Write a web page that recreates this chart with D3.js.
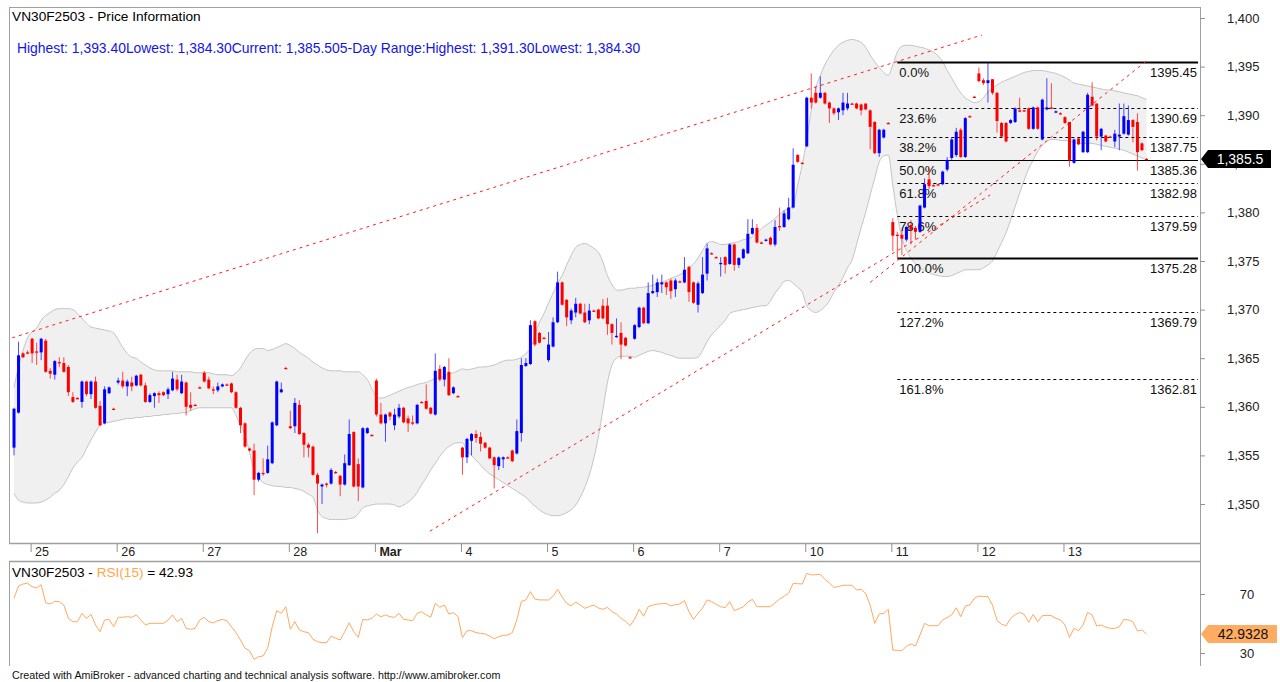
<!DOCTYPE html>
<html><head><meta charset="utf-8">
<script src="https://cdn.jsdelivr.net/npm/d3@7"></script>
<style>
body{margin:0;background:#fff;}
svg{display:block;font-family:"Liberation Sans",Arial,sans-serif;}
</style></head><body>
<svg id="chart" width="1280" height="682"></svg>
<script>
// ---------------- DATA ----------------
const dayStarts = [4,23,42,61,80,99,118,137,156,175,194,213,232];
const dayLabels = ["25","26","27","28","Mar","4","5","6","7","10","11","12","13"];
const priceTicks = [1350,1355,1360,1365,1370,1375,1380,1385,1390,1395,1400];
const rsiTicks = [30,70];

const opens = [
1355.8,1359.4,1365.5,1365.6,1367.0,1365.7,1365.6,1366.8,1363.7,1363.3,
1364.6,1364.5,1364.1,1361.0,1360.9,1360.5,1362.6,1361.3,1362.6,1360.1,
1358.3,1361.4,1359.8,1362.5,1362.7,1362.1,1362.5,1362.2,1363.3,1362.2,
1360.5,1361.1,1361.4,1361.5,1361.3,1361.7,1362.8,1361.4,1362.5,1360.2,
1360.2,1362.0,1363.5,1362.8,1361.8,1361.7,1362.1,1362.3,1362.4,1361.5,
1359.9,1358.3,1355.7,1355.5,1352.5,1353.2,1353.2,1354.2,1358.1,1361.5,
1364.0,1358.0,1358.0,1360.2,1357.3,1356.1,1355.9,1353.0,1351.8,1352.1,
1352.1,1353.3,1352.9,1352.0,1354.0,1357.4,1354.1,1351.7,1357.3,1357.1,
1362.7,1359.2,1358.3,1359.4,1358.1,1359.0,1359.9,1358.8,1358.4,1358.3,
1360.5,1360.6,1359.9,1359.2,1363.9,1362.8,1363.6,1361.4,1361.1,1355.8,
1354.8,1356.5,1357.2,1356.9,1356.3,1355.8,1354.8,1353.9,1354.6,1354.8,
1355.5,1355.2,1357.3,1364.2,1364.4,1368.8,1367.6,1367.1,1364.8,1366.2,
1368.7,1372.8,1371.0,1368.9,1369.7,1370.6,1369.7,1368.9,1369.9,1370.0,
1370.4,1370.4,1368.5,1367.2,1367.6,1367.1,1365.1,1367.0,1368.2,1370.2,
1368.6,1371.7,1371.8,1372.6,1372.8,1373.0,1372.1,1372.9,1372.8,1374.4,
1372.8,1370.5,1371.7,1373.7,1375.8,1375.4,1374.7,1375.4,1374.7,1376.7,
1374.6,1375.3,1375.8,1377.8,1378.4,1376.9,1377.1,1377.4,1376.7,1378.6,
1378.5,1379.3,1380.5,1385.9,1385.1,1386.8,1391.8,1392.3,1391.8,1392.3,
1391.3,1390.7,1390.3,1390.5,1390.7,1391.2,1391.2,1391.1,1391.2,1390.5,
1389.3,1386.1,1387.7,1389.2,1379.0,1377.7,1377.7,1377.2,1378.7,1378.4,
1378.0,1380.5,1383.4,1382.8,1382.9,1382.9,1384.4,1385.6,1385.9,1388.5,
1385.7,1389.9,1391.9,1394.3,1393.6,1393.3,1393.7,1392.3,1389.2,1389.2,
1389.2,1389.3,1390.5,1390.5,1390.7,1388.6,1390.8,1387.5,1390.6,1390.8,
1390.3,1390.2,1389.8,1389.3,1385.1,1387.6,1386.2,1386.2,1391.9,1391.2,
1387.8,1387.9,1387.8,1387.3,1387.8,1388.1,1388.0,1389.5,1389.3,1387.1,1385.5];

const highs = [
1359.9,1366.7,1365.6,1365.8,1367.1,1366.6,1367.1,1367.0,1364.0,1364.8,
1365.1,1365.1,1364.3,1361.5,1361.0,1362.7,1362.7,1362.7,1363.1,1360.6,
1362.1,1362.1,1359.9,1363.0,1363.6,1362.8,1363.1,1363.3,1363.4,1362.5,
1361.4,1361.5,1361.6,1361.6,1362.0,1363.6,1363.3,1363.3,1362.6,1361.5,
1360.3,1362.1,1363.7,1363.1,1362.1,1362.5,1362.4,1362.4,1362.5,1361.6,
1360.0,1358.4,1355.8,1356.2,1353.3,1354.7,1356.0,1358.5,1362.7,1362.5,
1364.1,1359.6,1360.9,1360.7,1357.4,1356.3,1356.0,1353.2,1352.1,1352.2,
1353.7,1353.4,1353.0,1355.1,1358.7,1357.5,1354.7,1357.9,1357.9,1357.2,
1362.9,1360.4,1359.3,1359.5,1359.8,1360.3,1360.0,1359.1,1359.1,1360.3,
1360.6,1362.3,1360.0,1365.5,1364.3,1364.2,1365.0,1362.1,1361.2,1355.9,
1356.8,1357.3,1357.6,1357.4,1356.4,1355.9,1354.9,1354.9,1354.9,1354.9,
1355.6,1358.7,1365.0,1365.0,1368.9,1368.9,1367.7,1367.2,1367.7,1369.2,
1373.9,1372.9,1371.1,1370.1,1371.2,1370.7,1370.6,1370.6,1370.0,1370.1,
1371.1,1371.2,1368.6,1369.1,1368.7,1367.2,1365.2,1368.5,1370.3,1370.3,
1372.8,1373.6,1373.2,1373.6,1372.9,1373.2,1373.2,1373.0,1375.4,1374.5,
1372.9,1372.9,1375.4,1376.8,1375.9,1375.5,1375.4,1375.5,1376.8,1376.8,
1375.4,1376.3,1379.3,1379.3,1378.8,1377.0,1377.3,1377.5,1379.2,1380.5,
1380.2,1381.5,1386.6,1386.0,1385.2,1391.9,1394.3,1392.9,1394.0,1392.4,
1391.4,1390.8,1390.8,1392.3,1392.3,1391.3,1391.3,1391.2,1391.2,1390.6,
1389.4,1388.6,1388.6,1389.3,1379.4,1378.0,1378.2,1378.6,1379.2,1378.6,
1380.8,1383.5,1384.6,1382.9,1383.0,1384.3,1385.7,1387.7,1388.7,1388.7,
1389.8,1390.0,1392.0,1394.9,1393.8,1395.45,1393.7,1392.4,1389.3,1389.3,
1389.6,1390.8,1391.8,1390.6,1390.8,1390.9,1390.9,1391.7,1393.8,1393.3,
1390.5,1390.3,1389.9,1389.3,1387.6,1387.7,1388.4,1392.3,1393.4,1391.2,
1388.7,1388.0,1387.9,1388.5,1391.2,1391.2,1391.0,1389.6,1390.2,1387.2,1385.6];

const lows = [
1355.0,1359.3,1365.0,1365.4,1364.5,1364.3,1364.8,1363.5,1362.9,1362.8,
1364.1,1363.5,1361.1,1360.4,1360.8,1359.9,1361.1,1360.8,1359.8,1358.0,
1358.2,1361.3,1359.7,1362.3,1361.9,1361.1,1361.6,1362.1,1362.1,1360.4,
1360.4,1359.9,1360.4,1361.1,1360.8,1361.6,1361.6,1361.3,1359.1,1359.6,
1360.1,1361.9,1362.5,1361.8,1361.3,1361.5,1362.0,1362.2,1361.4,1359.8,
1357.3,1355.8,1355.4,1350.9,1352.3,1352.9,1353.1,1354.1,1358.0,1361.4,
1363.9,1357.7,1357.3,1357.1,1354.8,1354.8,1352.9,1347.0,1350.0,1351.7,
1352.0,1353.1,1350.8,1351.9,1353.9,1351.7,1350.3,1351.6,1357.2,1357.0,
1359.0,1358.2,1356.4,1358.6,1357.6,1358.8,1358.3,1357.4,1358.1,1358.2,
1360.4,1359.7,1359.2,1359.1,1362.6,1362.1,1361.1,1361.3,1361.0,1353.0,
1354.2,1355.0,1356.3,1355.4,1355.7,1354.6,1351.6,1353.5,1353.7,1354.7,
1354.3,1355.1,1356.4,1364.1,1364.3,1366.2,1366.5,1367.0,1364.6,1366.1,
1368.6,1370.4,1368.3,1368.5,1369.2,1369.5,1368.6,1368.5,1369.8,1369.0,
1369.0,1367.4,1366.4,1367.1,1364.9,1366.2,1365.0,1366.9,1368.1,1368.5,
1368.5,1371.6,1371.3,1371.7,1371.5,1371.1,1371.3,1372.8,1372.7,1370.8,
1370.6,1369.7,1371.6,1373.0,1375.7,1375.3,1373.4,1373.7,1374.6,1374.0,
1374.3,1375.2,1375.7,1377.7,1376.8,1376.8,1377.0,1376.6,1376.5,1378.1,
1378.4,1379.2,1380.4,1385.1,1385.0,1386.7,1390.7,1391.2,1391.7,1391.1,
1389.2,1390.0,1389.5,1390.0,1390.5,1391.1,1390.6,1390.0,1390.5,1386.5,
1386.0,1385.7,1387.6,1389.1,1376.0,1375.28,1375.6,1377.0,1376.7,1377.2,
1377.9,1380.4,1382.4,1382.7,1382.7,1382.8,1384.2,1385.4,1385.7,1385.6,
1385.6,1389.8,1391.8,1393.4,1393.1,1391.3,1392.1,1388.2,1387.7,1387.2,
1389.1,1389.2,1390.3,1390.4,1388.5,1388.5,1388.5,1387.4,1390.5,1390.6,
1390.2,1390.1,1389.1,1384.7,1385.0,1386.9,1386.1,1386.1,1390.9,1387.4,
1386.4,1387.2,1387.7,1386.7,1386.4,1388.0,1387.9,1387.2,1384.3,1386.3,1385.4];

const closes = [
1359.8,1365.3,1365.1,1365.5,1365.5,1365.6,1367.0,1363.6,1363.4,1364.7,
1364.5,1363.6,1361.5,1360.5,1360.9,1362.6,1361.3,1362.6,1359.9,1358.1,
1361.8,1362.0,1359.8,1362.7,1362.1,1362.6,1362.1,1363.2,1362.2,1360.5,
1361.2,1361.4,1361.2,1361.2,1361.8,1362.9,1361.8,1362.6,1360.0,1359.9,
1360.2,1362.0,1362.6,1361.9,1361.8,1362.1,1362.3,1362.3,1361.5,1359.9,
1358.1,1355.9,1355.5,1352.5,1353.2,1353.1,1354.6,1358.4,1362.6,1361.8,
1364.0,1357.8,1360.4,1357.2,1356.1,1355.8,1353.0,1352.1,1352.0,1352.0,
1353.5,1353.2,1352.0,1354.2,1357.2,1351.8,1351.8,1357.8,1357.8,1357.1,
1359.2,1358.3,1359.2,1359.0,1359.2,1359.9,1358.4,1358.3,1358.3,1360.2,
1360.5,1359.8,1359.3,1363.7,1362.8,1364.1,1361.2,1362.0,1361.1,1354.8,
1356.7,1357.2,1356.8,1356.2,1355.8,1354.7,1354.0,1354.8,1354.8,1354.8,
1354.4,1357.5,1364.3,1364.5,1368.4,1366.4,1366.6,1367.1,1366.4,1368.7,
1372.8,1370.5,1369.2,1369.9,1370.6,1369.6,1368.7,1369.9,1369.9,1369.1,
1369.1,1368.5,1367.6,1367.3,1366.4,1366.3,1365.1,1368.4,1370.2,1368.6,
1371.7,1371.9,1372.8,1372.8,1372.3,1371.9,1373.0,1372.9,1374.1,1371.8,
1370.7,1372.7,1373.6,1376.3,1375.8,1375.4,1374.8,1374.6,1376.7,1374.6,
1375.3,1376.2,1377.8,1378.4,1376.9,1376.9,1377.2,1376.7,1378.5,1378.6,
1379.9,1380.5,1384.9,1385.2,1385.1,1391.8,1391.3,1391.3,1392.3,1391.2,
1390.7,1390.2,1390.7,1391.3,1391.2,1391.2,1390.7,1390.5,1390.6,1388.8,
1386.1,1388.5,1388.5,1389.2,1377.6,1377.6,1377.3,1378.5,1378.2,1378.0,
1380.7,1382.9,1382.7,1382.8,1382.9,1384.2,1385.4,1387.5,1388.3,1385.7,
1389.7,1389.9,1391.9,1393.5,1393.3,1393.6,1392.3,1389.4,1387.8,1387.3,
1389.5,1390.7,1390.5,1390.5,1388.6,1390.8,1388.6,1391.6,1390.8,1390.7,
1390.4,1390.2,1389.2,1385.4,1387.5,1387.0,1388.3,1392.1,1391.0,1387.8,
1388.6,1387.3,1387.8,1388.1,1388.0,1389.9,1389.5,1388.8,1386.2,1386.4,1385.5];

const bbUpper = [
1362.0,1364.1,1365.8,1367.1,1367.7,1368.1,1368.9,1369.4,1369.7,1370.0,
1370.1,1370.1,1370.1,1370.0,1369.6,1369.1,1368.6,1368.2,1368.1,1368.0,
1367.9,1367.8,1367.6,1366.9,1366.1,1365.5,1365.1,1365.0,1364.6,1364.3,
1364.0,1363.8,1363.7,1363.7,1363.7,1363.7,1363.6,1363.6,1363.6,1363.6,
1363.5,1363.5,1363.5,1363.5,1363.4,1363.3,1363.3,1363.3,1363.2,1363.5,
1364.0,1364.8,1365.5,1365.9,1366.0,1366.0,1365.8,1365.9,1366.1,1366.3,
1366.5,1366.3,1366.0,1365.6,1365.3,1365.0,1364.6,1364.3,1364.0,1363.8,
1363.7,1363.7,1363.7,1363.6,1363.6,1363.6,1363.6,1363.3,1362.8,1361.9,
1361.0,1360.9,1361.0,1361.2,1361.4,1361.6,1361.8,1362.0,1362.1,1362.3,
1362.4,1362.5,1362.7,1362.9,1363.0,1363.2,1363.4,1363.5,1363.7,1363.9,
1363.8,1363.9,1364.0,1364.1,1364.1,1364.2,1364.3,1364.5,1364.7,1364.8,
1364.8,1364.9,1365.1,1365.5,1366.0,1367.4,1368.7,1369.6,1370.7,1371.7,
1372.7,1373.5,1374.6,1375.6,1376.4,1376.7,1376.8,1376.6,1376.3,1375.9,
1374.9,1373.5,1372.6,1372.0,1372.0,1372.1,1372.2,1372.2,1372.3,1372.3,
1372.4,1372.5,1372.7,1372.8,1373.0,1373.2,1373.4,1373.6,1373.9,1374.3,
1374.7,1375.3,1376.1,1376.8,1377.0,1376.9,1376.7,1376.7,1376.8,1376.9,
1377.0,1377.2,1377.3,1377.5,1377.9,1378.3,1378.7,1379.0,1379.4,1379.8,
1380.2,1380.4,1380.7,1382.8,1384.9,1387.5,1390.5,1392.8,1394.1,1395.2,
1396.0,1396.7,1397.2,1397.5,1397.7,1397.8,1397.7,1397.5,1397.0,1396.2,
1395.5,1394.9,1394.4,1394.1,1395.2,1396.5,1397.1,1397.2,1397.2,1397.1,
1397.0,1396.9,1396.7,1396.5,1396.1,1395.5,1394.6,1393.8,1393.0,1392.3,
1391.8,1391.5,1391.3,1391.4,1391.8,1392.4,1392.8,1393.1,1393.4,1393.6,
1393.8,1394.0,1394.2,1394.4,1394.5,1394.6,1394.6,1394.6,1394.5,1394.4,
1394.3,1394.1,1393.9,1393.6,1393.3,1393.2,1393.1,1393.0,1392.9,1392.8,
1392.7,1392.6,1392.6,1392.5,1392.4,1392.3,1392.2,1392.1,1392.0,1391.8,1391.6];

const bbLower = [
1351.1,1350.4,1350.2,1350.1,1350.1,1350.1,1350.2,1350.4,1350.7,1351.1,
1351.4,1352.0,1352.8,1353.7,1354.3,1354.8,1355.7,1356.6,1357.4,1358.1,
1358.3,1358.4,1358.5,1358.6,1358.7,1358.8,1358.8,1358.9,1358.9,1359.0,
1359.0,1359.1,1359.1,1359.2,1359.2,1359.3,1359.3,1359.4,1359.4,1359.6,
1359.8,1359.9,1359.9,1359.9,1359.9,1359.9,1359.9,1359.9,1359.9,1359.1,
1358.1,1357.1,1355.3,1353.5,1352.7,1352.2,1352.0,1351.9,1351.8,1351.8,
1351.7,1351.7,1351.6,1351.5,1351.3,1351.0,1350.7,1349.4,1348.7,1348.5,
1348.4,1348.4,1348.4,1348.4,1348.5,1348.6,1349.0,1349.6,1349.8,1349.9,
1350.0,1350.0,1350.0,1350.0,1349.9,1349.7,1349.9,1350.2,1350.6,1351.2,
1352.0,1352.7,1353.5,1354.2,1354.9,1355.5,1355.9,1356.2,1356.3,1356.3,
1355.5,1355.0,1354.5,1354.0,1353.5,1353.1,1352.8,1352.5,1352.2,1351.9,
1351.6,1351.3,1351.0,1350.7,1350.2,1349.8,1349.4,1349.1,1348.9,1348.8,
1348.8,1348.9,1349.1,1349.4,1349.9,1350.7,1351.7,1353.0,1354.7,1356.9,
1359.7,1362.5,1364.3,1365.0,1365.2,1365.2,1365.2,1365.1,1365.3,1365.5,
1365.7,1365.8,1365.7,1365.6,1365.4,1365.3,1365.1,1365.0,1365.0,1365.0,
1365.0,1365.1,1365.8,1366.7,1367.4,1367.9,1368.4,1368.9,1369.6,1369.8,
1369.9,1370.0,1370.1,1370.2,1370.3,1370.4,1370.4,1370.9,1371.7,1372.3,
1372.9,1373.0,1372.7,1372.3,1371.8,1370.4,1369.9,1369.7,1369.9,1370.3,
1370.9,1371.8,1372.5,1373.3,1374.3,1375.1,1376.7,1378.4,1380.0,1381.8,
1383.5,1385.2,1385.8,1385.9,1382.8,1379.7,1377.4,1376.1,1375.3,1374.7,
1374.3,1374.0,1373.8,1373.6,1373.5,1373.4,1373.4,1373.5,1373.7,1373.9,
1374.1,1374.1,1374.1,1374.1,1374.3,1374.6,1375.0,1375.9,1376.9,1377.9,
1379.2,1380.6,1382.0,1383.3,1384.5,1385.4,1386.3,1386.9,1387.3,1387.5,
1387.5,1387.4,1387.4,1387.3,1387.2,1387.1,1387.1,1387.1,1387.1,1387.0,
1386.9,1386.8,1386.7,1386.6,1386.5,1386.4,1386.2,1386.0,1385.8,1385.6,1385.4];

const rsi15 = [
67.1,75.4,76.8,77.3,75.0,74.1,76.3,64.1,63.2,65.0,
64.8,62.5,53.5,51.2,51.2,56.9,53.5,56.2,49.0,44.4,
52.4,52.8,47.8,54.2,54.2,54.6,54.2,55.8,52.4,49.0,
50.1,50.1,50.1,50.1,52.4,55.8,51.2,53.5,46.7,46.1,
46.7,52.4,54.2,51.2,50.5,51.9,52.8,51.9,47.8,43.8,
38.8,33.2,31.6,25.7,27.5,28.0,33.2,47.8,58.7,56.9,
61.4,46.1,51.2,45.6,44.4,43.8,39.3,37.7,37.0,37.0,
41.5,40.0,38.8,44.4,50.5,44.4,40.6,52.8,52.4,53.5,
56.4,54.6,55.8,54.6,54.2,56.9,52.8,52.4,51.9,56.9,
58.0,55.8,54.2,63.7,61.0,62.5,56.4,57.3,54.6,40.4,
45.1,45.1,43.8,43.3,42.9,41.5,39.7,41.0,42.0,42.2,
43.8,52.4,65.0,66.0,71.6,66.5,66.0,66.0,65.9,68.5,
73.2,68.0,63.7,62.0,64.5,62.5,60.3,61.5,62.5,60.5,
59.6,61.0,58.0,56.5,53.5,51.5,48.5,53.0,59.6,55.0,
61.4,62.5,63.2,63.4,63.6,61.9,62.8,63.2,65.5,58.0,
52.8,57.0,60.5,66.0,64.8,63.0,61.4,60.7,64.8,58.7,
60.0,61.4,64.5,66.4,61.4,61.4,61.4,61.4,64.1,66.5,
68.5,70.5,77.2,77.0,76.8,84.0,82.9,83.1,83.3,80.0,
77.5,74.5,75.0,75.9,75.9,75.9,72.7,73.2,70.5,62.5,
50.1,56.4,56.9,59.6,32.0,31.8,31.6,34.5,36.1,34.7,
42.2,50.1,48.5,48.5,48.5,52.4,54.0,55.8,60.7,54.6,
61.9,62.5,67.1,68.6,68.3,68.2,62.5,52.0,49.5,48.5,
53.5,56.0,57.5,56.2,50.8,56.2,51.2,55.3,55.5,55.3,
53.5,52.5,49.0,40.6,46.7,45.1,49.0,57.5,55.8,48.3,
49.0,47.5,46.7,46.7,47.8,52.8,52.4,51.2,44.9,45.6,42.93];

// trend lines: [bar index, price] endpoints
const trendStart = [[-0.4,1367.1],[91.8,1347.2],[189,1372.8]];
const trendEnd   = [[213.7,1398.25],[215.5,1381.8],[250.3,1395.7]];

// Fibonacci retracement
const fibStartBar = 195;
const fibPct = ["0.0%","23.6%","38.2%","50.0%","61.8%","78.6%","100.0%","127.2%","161.8%"];
const fibVal = [1395.45,1390.69,1387.75,1385.36,1382.98,1379.59,1375.28,1369.79,1362.81];

const headerTitle = "VN30F2503 - Price Information";
const headerInfo = "Highest: 1,393.40Lowest: 1,384.30Current: 1,385.505-Day Range:Highest: 1,391.30Lowest: 1,384.30";
const lastPrice = 1385.5, lastRsi = 42.9328;

// ---------------- LAYOUT ----------------
const L = 9, R = 1200, T = 7, B = 543, RT = 561, RB = 666;
const x = d3.scaleLinear().domain([0, 250]).range([14, 14 + 4.53 * 250]);
const y = d3.scaleLinear().domain([1350, 1400]).range([504, 18]);
const yr = d3.scaleLinear().domain([30, 70]).range([653, 594]);

const svg = d3.select("#chart");
svg.append("rect").attr("width",1280).attr("height",682).attr("fill","#fff");

const defs = svg.append("defs");
defs.append("clipPath").attr("id","cp").append("rect").attr("x",L).attr("y",T).attr("width",R-L).attr("height",B-T);
defs.append("clipPath").attr("id","cpr").append("rect").attr("x",L).attr("y",RT).attr("width",R-L).attr("height",RB-RT);

const plot = svg.append("g").attr("clip-path","url(#cp)");

// Bollinger band
const idx = d3.range(closes.length);
const band = d3.area().x(i => x(i)).y0(i => y(bbLower[i])).y1(i => y(bbUpper[i])).curve(d3.curveMonotoneX);
plot.append("path").datum(idx).attr("d", band).attr("fill","#f0f0f0");
const ln = arr => d3.line().x(i => x(i)).y(i => y(arr[i])).curve(d3.curveMonotoneX);
plot.append("path").datum(idx).attr("d", ln(bbUpper)).attr("fill","none").attr("stroke","#c4c4c4").attr("stroke-width",1);
plot.append("path").datum(idx).attr("d", ln(bbLower)).attr("fill","none").attr("stroke","#c4c4c4").attr("stroke-width",1);

// Fibonacci
const fibX1 = x(fibStartBar), fibX2 = R - 2;
fibVal.forEach((v, k) => {
  const yy = Math.round(y(v)) + 0.5;
  const solid = (k === 0 || k === 3 || k === 6);
  plot.append("line").attr("x1",fibX1).attr("x2",fibX2).attr("y1",yy).attr("y2",yy)
    .attr("stroke","#000").attr("stroke-width", (k===0||k===6) ? 2 : 1)
    .attr("stroke-dasharray", solid ? null : "3,3");
  plot.append("text").attr("x", fibX1 + 2).attr("y", yy + 14).attr("font-size",13).attr("fill","#111").text(fibPct[k]);
  plot.append("text").attr("x", fibX2 - 1).attr("y", yy + 14).attr("font-size",13).attr("fill","#111")
    .attr("text-anchor","end").text(v.toFixed(2));
});

// trend lines
trendStart.forEach((s, k) => {
  const e = trendEnd[k];
  plot.append("line").attr("x1",x(s[0])).attr("y1",y(s[1])).attr("x2",x(e[0])).attr("y2",y(e[1]))
    .attr("stroke","#ff2020").attr("stroke-width",1).attr("stroke-dasharray","3,4");
});

// candles
const cg = plot.append("g");
idx.forEach(i => {
  const o = opens[i], c = closes[i];
  const col = c > o ? "#0000ff" : "#ff0000";
  const hi = Math.max(highs[i], o, c), lo = Math.min(lows[i], o, c);
  const cx = x(i);
  cg.append("line").attr("x1",cx).attr("x2",cx).attr("y1",y(hi)).attr("y2",y(lo))
    .attr("stroke",col).attr("stroke-width",1).attr("stroke-opacity",0.7);
  const yt = y(Math.max(o,c)), yb = y(Math.min(o,c));
  cg.append("rect").attr("x",cx-1.5).attr("width",3).attr("y",yt).attr("height",Math.max(1.3, yb-yt)).attr("fill",col);
});

// ---------------- FRAMES ----------------
const frame = svg.append("g").attr("stroke","#a0a0a0").attr("fill","none");
frame.append("line").attr("x1",L).attr("x2",R).attr("y1",T+0.5).attr("y2",T+0.5);
frame.append("line").attr("x1",L+0.5).attr("x2",L+0.5).attr("y1",T).attr("y2",B);
frame.append("line").attr("x1",L+0.5).attr("x2",L+0.5).attr("y1",RT).attr("y2",RB);
frame.append("line").attr("x1",L).attr("x2",R).attr("y1",B+0.5).attr("y2",B+0.5).attr("stroke-width",1.5);
frame.append("line").attr("x1",L).attr("x2",R).attr("y1",RT+0.5).attr("y2",RT+0.5).attr("stroke-width",1.5);
frame.append("line").attr("x1",R+0.5).attr("x2",R+0.5).attr("y1",T).attr("y2",RB);

// price axis
const pa = svg.append("g").attr("transform",`translate(${R},0)`)
  .call(d3.axisRight(y).tickValues(priceTicks).tickFormat(d3.format(",")).tickSize(5).tickSizeOuter(0).tickPadding(22));
pa.select(".domain").remove();
pa.selectAll("line").attr("stroke","#909090");
pa.selectAll("text").attr("font-size",13).attr("fill","#222").attr("font-family","Liberation Sans, Arial, sans-serif");

// x axis
const xa = svg.append("g").attr("transform",`translate(0,${B+1})`)
  .call(d3.axisBottom(x).tickValues(dayStarts).tickFormat((d,k) => dayLabels[k]).tickSize(8).tickSizeOuter(0));
xa.select(".domain").remove();
xa.selectAll("line").attr("stroke","#909090").attr("transform","translate(-1.5,0)");
xa.selectAll("text").attr("text-anchor","start").attr("x",2.5).attr("y",3).attr("font-size",12.5).attr("fill","#222")
  .attr("font-family","Liberation Sans, Arial, sans-serif")
  .attr("font-weight",(d,k) => dayLabels[k] === "Mar" ? "bold" : null);

// current price tag (drawn over the hidden 1,385 label as in the original)
const ty = y(lastPrice);
svg.append("path").attr("d",`M${R+1},${ty} L${R+8},${ty-9} L${R+71},${ty-9} L${R+71},${ty+9} L${R+8},${ty+9} Z`).attr("fill","#000");
svg.append("text").attr("x",R+40).attr("y",ty+5).attr("text-anchor","middle").attr("font-size",14).attr("fill","#fff")
  .text(d3.format(",.1f")(lastPrice));

// header
svg.append("text").attr("x",12).attr("y",21).attr("font-size",13.7).attr("fill","#000").text(headerTitle);
svg.append("text").attr("x",17).attr("y",53).attr("font-size",13.9).attr("fill","#1414e6").text(headerInfo);

// ---------------- RSI PANEL ----------------
const rg = svg.append("g").attr("clip-path","url(#cpr)");
rg.append("path").datum(idx).attr("d", d3.line().x(i => x(i)).y(i => yr(rsi15[i])))
  .attr("fill","none").attr("stroke","#ffa95e").attr("stroke-width",1);

const ra = svg.append("g").attr("transform",`translate(${R},0)`)
  .call(d3.axisRight(yr).tickValues(rsiTicks).tickSize(5).tickSizeOuter(0).tickPadding(42));
ra.select(".domain").remove();
ra.selectAll("line").attr("stroke","#909090");
ra.selectAll("text").attr("font-size",13).attr("fill","#222").attr("text-anchor","middle")
  .attr("font-family","Liberation Sans, Arial, sans-serif");

const ry = yr(lastRsi);
svg.append("path").attr("d",`M${R+1},${ry} L${R+8},${ry-9} L${R+77},${ry-9} L${R+77},${ry+9} L${R+8},${ry+9} Z`).attr("fill","#ffac62");
svg.append("text").attr("x",R+43).attr("y",ry+5).attr("text-anchor","middle").attr("font-size",14).attr("fill","#111")
  .text(lastRsi.toFixed(4));

const rl = svg.append("text").attr("x",12).attr("y",577).attr("font-size",13.6);
rl.append("tspan").attr("fill","#000").text("VN30F2503 - ");
rl.append("tspan").attr("fill","#ffa64d").text("RSI(15)");
rl.append("tspan").attr("fill","#000").text(" = " + lastRsi.toFixed(2));

svg.append("text").attr("x",12).attr("y",679).attr("font-size",10.7).attr("fill","#111")
  .text("Created with AmiBroker - advanced charting and technical analysis software. http://www.amibroker.com");
</script>
</body></html>
